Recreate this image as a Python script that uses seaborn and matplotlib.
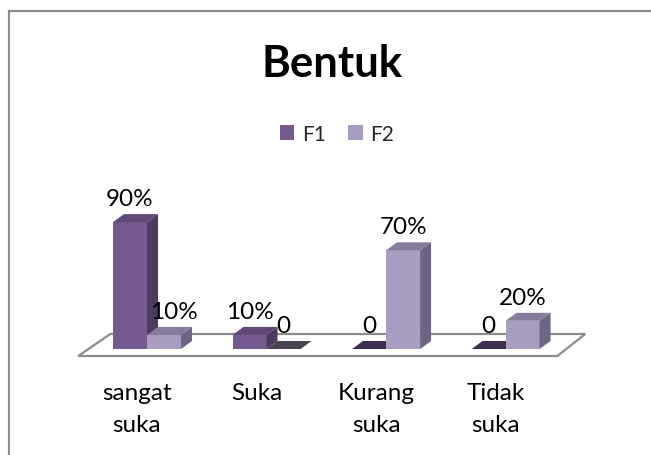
import matplotlib
matplotlib.use("Agg")
import numpy as np
import pandas as pd
import seaborn as sns
import matplotlib.pyplot as plt
from matplotlib.patches import Polygon, Rectangle
from matplotlib.transforms import ScaledTranslation

# ---- data ----
categories = ["sangat\nsuka", "Suka", "Kurang\nsuka", "Tidak\nsuka"]
series = ["F1", "F2"]
f1_values = [90, 10, 0, 0]
f2_values = [10, 0, 70, 20]
f1_labels = ["90%", "10%", "0", "0"]
f2_labels = ["10%", "0", "70%", "20%"]
title = "Bentuk"

df = pd.DataFrame({
    "cat": categories * 2,
    "series": [series[0]] * len(categories) + [series[1]] * len(categories),
    "value": f1_values + f2_values,
})
labels = {series[0]: f1_labels, series[1]: f2_labels}

# ---- style ----
sns.set_theme(style="white")
plt.rcParams["font.family"] = ["Lato", "DejaVu Sans"]

FW, FH, DPI = 651, 456, 100
fig = plt.figure(figsize=(FW / DPI, FH / DPI), dpi=DPI)
fig.patch.set_facecolor("white")

ax_l, ax_b, ax_w, ax_h = 75.3, 106, 502, 183.3
ax = fig.add_axes([ax_l / FW, ax_b / FH, ax_w / FW, ax_h / FH])
ax.set_facecolor("none")

front = {"F1": "#745a8e", "F2": "#a99cc1"}
side = {"F1": "#4b3b60", "F2": "#6e6483"}
top = {"F1": "#5e4978", "F2": "#877c9d"}
zero_top = {"F1": "#3d2e50", "F2": "#4a4452"}

sns.barplot(data=df, x="cat", y="value", hue="series", hue_order=series,
            order=categories, palette=front, width=0.569, saturation=1,
            ax=ax, legend=False, errorbar=None)

xmin, xmax, ymin, ymax = -0.6, 3.6, 0, 130
ax.set_xlim(xmin, xmax)
ax.set_ylim(ymin, ymax)
ux = (xmax - xmin) / ax_w
uy = (ymax - ymin) / ax_h
dx, dy = 11 * ux, 8 * uy

# floor
floor = Polygon([(xmin + 3 * ux, -7 * uy), (xmax - 20 * ux, -7 * uy),
                 (xmax + 8 * ux, 15 * uy), (xmin + 35 * ux, 15 * uy)],
                closed=True, facecolor="white", edgecolor="#8c8c8c",
                lw=1.6, zorder=1, clip_on=False)
ax.add_patch(floor)

label_nudge_px = {("F2", 0): 10}

for i, (s, cont) in enumerate(zip(series, ax.containers)):
    z = 3 + i
    for j, rect in enumerate(cont.patches):
        rect.set_zorder(z)
        rect.set_edgecolor("none")
        rect.set_linewidth(0)
        rect.set_clip_on(False)
        x0 = rect.get_x()
        x1 = x0 + rect.get_width()
        h = rect.get_height()
        if h > 0:
            ax.add_patch(Polygon([(x1, 0), (x1, h), (x1 + dx, h + dy), (x1 + dx, dy)],
                                 closed=True, facecolor=side[s], edgecolor="none",
                                 zorder=z, clip_on=False))
            ax.add_patch(Polygon([(x0, h), (x1, h), (x1 + dx, h + dy), (x0 + dx, h + dy)],
                                 closed=True, facecolor=top[s], edgecolor="none",
                                 zorder=z, clip_on=False))
        else:
            ax.add_patch(Polygon([(x0, 0), (x1, 0), (x1 + dx, dy), (x0 + dx, dy)],
                                 closed=True, facecolor=zero_top[s], edgecolor="none",
                                 zorder=z, clip_on=False))
        nud = label_nudge_px.get((s, j), 0) * 72 / DPI
        ax.annotate(labels[s][j], xy=((x0 + x1) / 2, h), xytext=(nud, 17 * 72 / DPI),
                    textcoords="offset points", ha="center", va="baseline",
                    fontsize=17.5, color="black", zorder=10, annotation_clip=False)

# axes cosmetics
ax.set_xticks(range(len(categories)))
ax.set_xticklabels(categories, fontsize=17.5, linespacing=1.6)
ax.tick_params(axis="x", length=0, pad=24, colors="black")
for lab in ax.get_xticklabels():
    lab.set_transform(lab.get_transform() + ScaledTranslation(-10 / DPI, 0, fig.dpi_scale_trans))
ax.set_yticks([])
ax.set_xlabel("")
ax.set_ylabel("")
for sp in ax.spines.values():
    sp.set_visible(False)

# legend
handles = [Rectangle((0, 0), 1, 1, facecolor=front[s], edgecolor="none") for s in series]
ax.legend(handles, series, loc="center", bbox_to_anchor=(337 / FW, 1 - 135 / FH),
          bbox_transform=fig.transFigure, ncol=2, frameon=False, fontsize=15,
          handlelength=0.7, handleheight=0.7, handletextpad=0.35, columnspacing=1.1)

# title
fig.text(332 / FW, 1 - 77 / FH, title, ha="center", va="baseline",
         fontsize=31.5, fontweight="bold", color="black")

# chart border
fig.patches.append(Rectangle((9 / FW, -0.1), 1.0, 1 - 12 / FH + 0.1,
                             transform=fig.transFigure, fill=False,
                             edgecolor="#8c8c8c", lw=1.6))

fig.savefig("out.png", dpi=DPI)
